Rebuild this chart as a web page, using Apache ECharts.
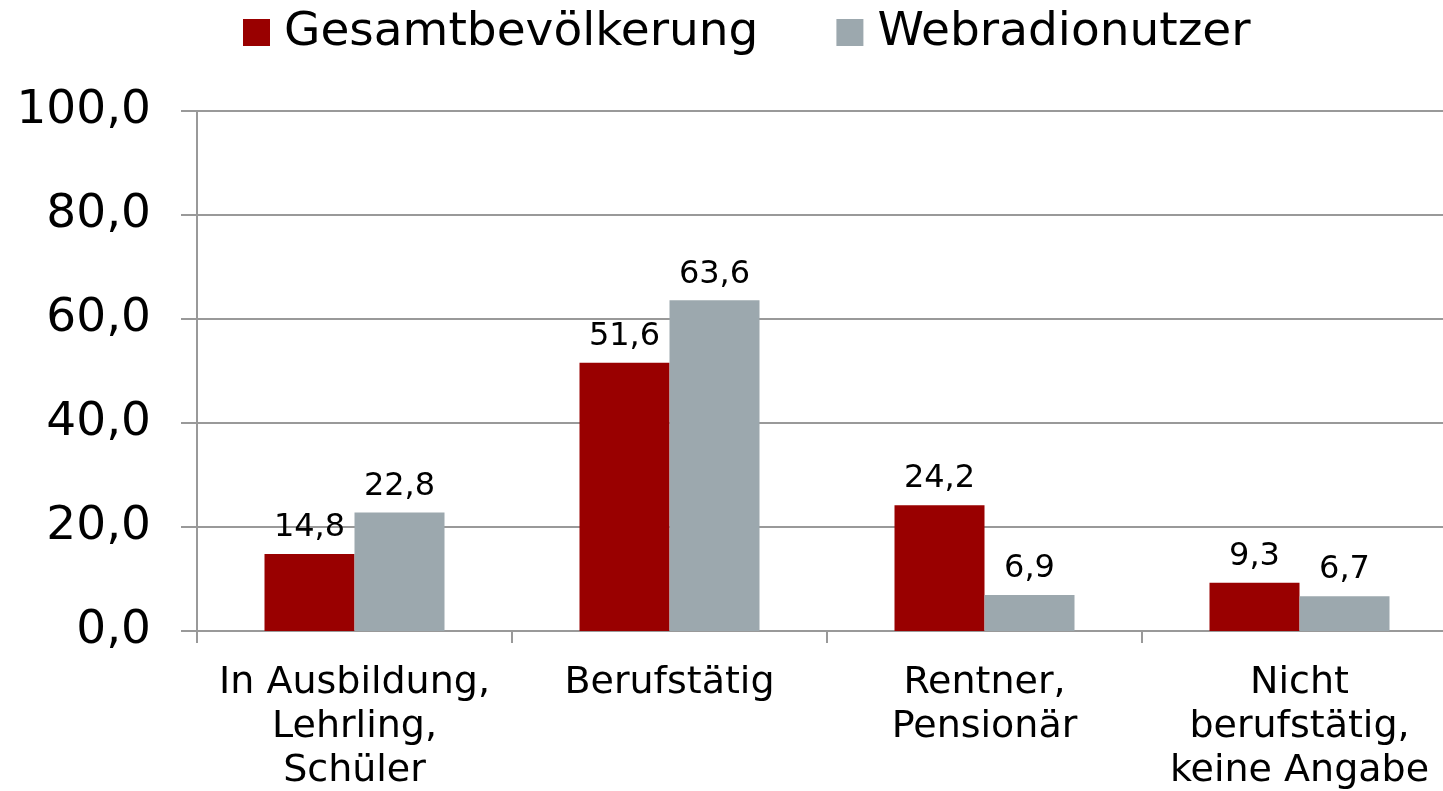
<!DOCTYPE html>
<html>
<head>
<meta charset="utf-8">
<script src="https://cdn.jsdelivr.net/npm/echarts@6/dist/echarts.min.js"></script>
<style>
html,body{margin:0;padding:0;background:#fff;}
#c{width:1443px;height:791px;}
</style>
</head>
<body>
<div id="c"></div>
<script>
const categories = ["In Ausbildung,\nLehrling,\nSchüler", "Berufstätig", "Rentner,\nPensionär", "Nicht\nberufstätig,\nkeine Angabe"];
const seriesNames = ["Gesamtbevölkerung", "Webradionutzer"];
const gesamt = [14.8, 51.6, 24.2, 9.3];
const webradio = [22.8, 63.6, 6.9, 6.7];
const yTicks = [0, 20, 40, 60, 80, 100];

const FONT = "'DejaVu Sans', Verdana, sans-serif";
const fmt = v => Number(v).toFixed(1).replace('.', ',');
const colors = ['#990000', '#9CA8AE'];

const chart = echarts.init(document.getElementById('c'), null, {renderer: 'canvas'});
const labelCfg = {
  show: true, position: 'top', distance: 10,
  fontFamily: FONT, fontSize: 32, color: '#000',
  formatter: p => fmt(p.value)
};
chart.setOption({
  animation: false,
  backgroundColor: '#fff',
  color: colors,
  legend: {
    left: 238, top: 4,
    itemWidth: 27, itemHeight: 27, itemGap: 78,
    icon: 'rect',
    textStyle: {fontFamily: FONT, fontSize: 47, color: '#000', padding: [0, 0, 0, 9]},
    data: seriesNames
  },
  grid: {left: 197, width: 1260, top: 111, bottom: 160, containLabel: false, outerBoundsMode: 'none'},
  xAxis: {
    type: 'category',
    data: categories,
    axisLine: {lineStyle: {color: '#999', width: 2}},
    axisTick: {show: true, length: 12, lineStyle: {color: '#999', width: 2}},
    axisLabel: {fontFamily: FONT, fontSize: 38, lineHeight: 44, color: '#000', margin: 30, interval: 0}
  },
  yAxis: {
    type: 'value', min: yTicks[0], max: yTicks[yTicks.length - 1], interval: 20,
    axisLine: {show: true, lineStyle: {color: '#999', width: 2}},
    axisTick: {show: true, length: 16, lineStyle: {color: '#999', width: 2}},
    splitLine: {show: true, lineStyle: {color: '#999', width: 2}},
    axisLabel: {fontFamily: FONT, fontSize: 47, color: '#000', margin: 46, formatter: v => fmt(v)}
  },
  series: [
    {name: seriesNames[0], type: 'bar', data: gesamt, barWidth: 90, barGap: '0%', label: labelCfg},
    {name: seriesNames[1], type: 'bar', data: webradio, barWidth: 90, barGap: '0%', label: labelCfg}
  ]
});
</script>
</body>
</html>
